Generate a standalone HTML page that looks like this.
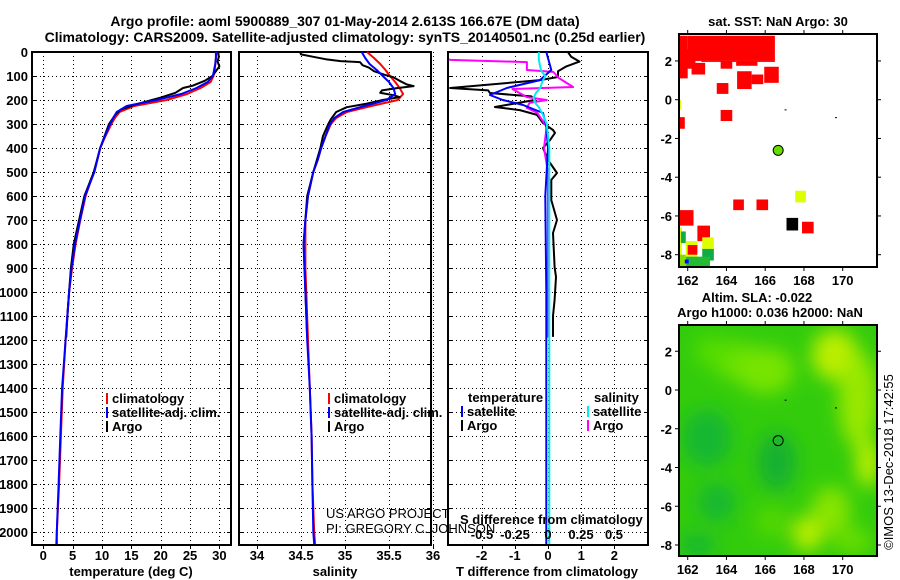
<!DOCTYPE html>
<html><head><meta charset="utf-8">
<style>
html,body{margin:0;padding:0;background:#fff;}
svg{display:block;font-family:"Liberation Sans",Arial,sans-serif;}
.b{font-weight:bold;font-size:13px;}
.t{font-weight:bold;font-size:14px;}
</style></head>
<body>
<svg id="fig" width="900" height="580" viewBox="0 0 900 580" xmlns="http://www.w3.org/2000/svg">
<rect width="900" height="580" fill="#fff"/>
<defs><filter id="blur" x="-50%" y="-50%" width="200%" height="200%"><feGaussianBlur stdDeviation="9"/></filter>
<clipPath id="m2clip"><rect x="679" y="325" width="198" height="231"/></clipPath></defs>
<text class="t" x="345" y="26" text-anchor="middle">Argo profile: aoml 5900889_307 01-May-2014 2.613S 166.67E (DM data)</text>
<text class="t" x="345" y="42" text-anchor="middle">Climatology: CARS2009. Satellite-adjusted climatology: synTS_20140501.nc (0.25d earlier)</text>
<g id="root"></g>
</svg>
<script>
// ---- data ----
const climDepth=[0,25,50,75,100,125,150,175,200,225,250,275,300,350,400,450,500,600,700,800,900,1000,1200,1400,1600,1800,2000,2050];
const tempClim=[29.5,29.4,29.3,29.2,29.0,28.5,26.8,24.5,21.0,15.5,13.0,12.2,11.6,10.6,9.7,9.2,8.6,7.2,6.3,5.5,4.9,4.4,3.8,3.3,3.0,2.7,2.3,2.2];
const tempSat=[29.4,29.4,29.3,29.1,28.9,28.0,26.1,23.5,19.3,14.2,12.5,11.9,11.4,10.5,9.7,9.2,8.7,7.1,6.25,5.4,4.8,4.4,3.8,3.2,2.9,2.6,2.3,2.3];
const salClim=[35.25,35.33,35.4,35.46,35.51,35.57,35.62,35.66,35.6,35.3,35.02,34.9,34.84,34.78,34.73,34.69,34.64,34.58,34.55,34.55,34.55,34.56,34.58,34.6,34.62,34.63,34.65,34.66];
const salSat=[35.19,35.23,35.28,35.36,35.43,35.5,35.55,35.57,35.47,35.22,34.98,34.88,34.83,34.78,34.73,34.69,34.64,34.58,34.55,34.53,34.54,34.55,34.57,34.6,34.62,34.63,34.64,34.65];
const argoTDepth=[0,20,40,60,80,100,120,140,150,170,190,200,220,240,260,300,400,500,600,700,800,900,1000,1100,1190];
const argoTemp=[29.8,29.9,29.7,30.0,29.4,28.8,27.5,25.5,23.8,22.5,20,18.5,15.5,13.2,12.3,11.2,9.7,8.6,7.0,6.1,5.2,4.7,4.4,4.1,3.9];
const argoSDepth=[0,10,20,30,38,42,55,65,80,95,105,120,135,142,150,160,170,180,188,200,215,230,250,280,300,350,400,500,600,700,800,1000,1190];
const argoSal=[34.49,34.5,34.64,34.78,34.95,35.17,35.2,35.27,35.33,35.45,35.55,35.62,35.7,35.78,35.6,35.42,35.4,35.55,35.62,35.43,35.25,35.02,34.9,34.84,34.81,34.75,34.72,34.64,34.57,34.55,34.53,34.55,34.57];
const tDiffDepth=[0,20,40,60,80,104,117,150,160,171,185,200,229,242,262,296,325,337,367,400,450,504,533,617,700,754,896,937,1033,1100,1187];
const tDiffArgo=[0.6,0.7,0.95,0.55,0.3,0.3,-0.24,-2.95,-1.8,-1.75,-0.5,-0.4,-1.6,-0.85,-0.33,-0.15,0.15,0.21,0.06,-0.15,0,0.27,0.1,0.1,0.27,0.15,0.2,0.24,0.2,0.15,0.15];
const tSatDepth=[0,75,117,150,179,200,221,254,310,400,600,1000,2050];
const tDiffSat=[-0.05,0.1,-0.24,-1.24,-1.75,-1.36,-0.75,-0.15,-0.05,0,-0.08,-0.05,-0.05];
const sArgoDepth=[30,33,42,60,75,83,108,146,154,188,200,212,233,254,312,400,500,1000,1190];
const sDiffArgo=[-0.75,-0.74,-0.16,-0.16,-0.16,0.04,0.08,0.19,-0.27,-0.16,-0.01,-0.14,-0.16,-0.08,-0.01,-0.03,0,0,0];
const sSatDepth=[0,30,60,80,100,120,150,170,190,210,230,260,300,400,600,1000,2050];
const sDiffSat=[-0.07,-0.07,-0.06,-0.05,-0.02,-0.04,-0.06,-0.09,-0.11,-0.1,-0.07,-0.04,-0.01,0.01,0.01,0.01,0.01];
const depthTicks=[0,100,200,300,400,500,600,700,800,900,1000,1100,1200,1300,1400,1500,1600,1700,1800,1900,2000];
const tempTicks=[0,5,10,15,20,25,30];
const salTicks=[34,34.5,35,35.5,36];
const tdTicks=[-2,-1,0,1,2];
const sdTicks=[-0.5,-0.25,0,0.25,0.5];
const lonTicks=[162,164,166,168,170];
const latTicks=[2,0,-2,-4,-6,-8];
// SST cells: [lon0, lat0, lon1, lat1, color]
const sstCells=[
[161.5,3.3,162.0,1.1,'#f00'],[162.0,3.3,166.5,2.0,'#f00'],[161.5,2.6,162.4,1.6,'#f00'],[162.2,1.9,162.9,1.3,'#f00'],
[163.7,2.0,164.3,1.6,'#f00'],[164.5,2.0,165.6,1.75,'#f00'],[165.6,2.0,166.5,1.95,'#f00'],[162.7,2.0,164.5,1.95,'#f00'],
[164.55,1.47,165.3,0.55,'#f00'],[165.3,1.3,165.9,0.8,'#f00'],[165.95,1.7,166.7,0.87,'#f00'],[163.5,0.86,164.1,0.3,'#f00'],
[163.7,-0.53,164.3,-1.1,'#f00'],[161.5,-0.9,161.85,-1.5,'#f00'],[161.5,0,161.65,-0.5,'#df0'],
[164.35,-5.15,164.9,-5.7,'#f00'],[165.55,-5.15,166.15,-5.7,'#f00'],[167.55,-4.7,168.1,-5.3,'#df0'],
[167.1,-6.1,167.7,-6.75,'#000'],[167.9,-6.3,168.5,-6.9,'#f00'],[161.5,-5.7,162.3,-6.5,'#f00'],[162.5,-6.5,163.15,-7.3,'#f00'],
[161.5,-6.6,161.7,-8.6,'#df0'],[161.65,-6.8,161.9,-7.4,'#1a4'],[161.9,-7.3,162.5,-8.1,'#df0'],[162.0,-7.5,162.5,-8.0,'#f00'],
[162.75,-7.1,163.35,-7.7,'#df0'],[162.75,-7.7,163.35,-8.3,'#1a4'],[161.9,-8.1,163.15,-8.6,'#2b3'],[161.6,-8.0,161.9,-8.6,'#8d0'],[161.85,-8.25,162.05,-8.45,'#00f']
];
// SLA blobs: [lon, lat, rx(deg), ry(deg), color]
const slaBlobs=[
[164.5,1.5,1.2,1.0,'#66e000'],[166,1.0,1.5,1.2,'#77e400'],[169.6,1.8,1.2,1.3,'#bbee00'],[170.8,-0.5,1.0,2.5,'#99e800'],
[171.3,-3.8,0.6,1.2,'#c0f000'],[168.2,-7.4,0.8,0.9,'#bbee00'],[169.4,-6.2,1.0,1.2,'#88e400'],[163.2,2.0,0.8,0.8,'#55dd00'],
[163,-2.5,1.3,1.5,'#15b830'],[166.6,-3.7,1.0,1.5,'#12b030'],[163.5,-5.8,1.0,1.0,'#15b830'],[162.5,-8,1.0,0.6,'#15b830'],
[166.3,-6.8,0.8,0.8,'#55d800'],[170.5,-7.8,1.0,0.7,'#66dd00']
];
const argoLon=166.67, argoLat=-2.613;

// ---- scales ----
const NS='http://www.w3.org/2000/svg';
const root=document.getElementById('root');
function el(tag,attrs,parent,txt){const e=document.createElementNS(NS,tag);for(const k in attrs)e.setAttribute(k,attrs[k]);if(txt!==undefined)e.textContent=txt;(parent||root).appendChild(e);return e;}
const yD=d=>52+0.24*d;
const xT=t=>43.3+5.87*t;
const xS=s=>257+88*(s-34);
const xTD=d=>548+33.2*d;
const xSD=d=>548+132*d;
const lonX=l=>687.7+19.375*(l-162);
const latY1=a=>99.7-19.375*a;
const latY2=a=>390-19.375*a;
const panels=[{x0:32,x1:231,name:'temperature-panel'},{x0:239,x1:431,name:'salinity-panel'},{x0:448,x1:648,name:'difference-panel'}];
const Y0=52,Y1=545;

function line(xs,ds,fx,color,name,parent){
  const pts=xs.map((v,i)=>fx(v).toFixed(1)+','+yD(ds[i]).toFixed(1)).join(' ');
  const p=el('polyline',{points:pts,fill:'none',stroke:color,'stroke-width':2,'stroke-linejoin':'round'},parent);
  
  
  return p;
}

// panels frame and grids
panels.forEach((P,pi)=>{
  const g=el('g',{});
  
  
  depthTicks.forEach(d=>{
    const y=Math.round(yD(d))+0.5;
    const gl=el('line',{x1:P.x0,x2:P.x1,y1:y,y2:y,stroke:'#000','stroke-width':1,'stroke-dasharray':'1,3','shape-rendering':'crispEdges'},g);
    
    
    el('line',{x1:P.x0,x2:P.x0+4,y1:y,y2:y,stroke:'#000','shape-rendering':'crispEdges'},g);
    el('line',{x1:P.x1-4,x2:P.x1,y1:y,y2:y,stroke:'#000','shape-rendering':'crispEdges'},g);
  });
  const ticks=pi===0?tempTicks:pi===1?salTicks:tdTicks;
  const fx=pi===0?xT:pi===1?xS:xTD;
  ticks.forEach(t=>{
    const x=Math.round(fx(t))+0.5;
    const gl=el('line',{x1:x,x2:x,y1:Y0,y2:Y1,stroke:'#000','stroke-width':1,'stroke-dasharray':'1,3','shape-rendering':'crispEdges'},g);
    
    
    el('line',{x1:x,x2:x,y1:Y1,y2:Y1+4,stroke:'#000'},g);
    const tl=el('text',{x:fx(t),y:560,'text-anchor':'middle',class:'b'},g,String(t));
    
    
  });
  const fr=el('rect',{x:P.x0,y:Y0,width:P.x1-P.x0,height:Y1-Y0,fill:'none',stroke:'#000','stroke-width':2},g);
  
  
});
depthTicks.forEach(d=>{
  const t=el('text',{x:28,y:yD(d)+5,'text-anchor':'end',class:'b'},null,String(d));
  
  
});
[['temperature (deg C)',131,'x-axis-title-temperature'],['salinity',335,'x-axis-title-salinity'],['T difference from climatology',547,'x-axis-title-t-difference']].forEach(a=>{
  const t=el('text',{x:a[1],y:576,'text-anchor':'middle',class:'b'},null,a[0]);
  
  
});

// series
line(tempClim,climDepth,xT,'#f00','temperature-climatology-line');
line(argoTemp,argoTDepth,xT,'#000','temperature-argo-line');
line(tempSat,climDepth,xT,'#00f','temperature-satellite-line');
line(salClim,climDepth,xS,'#f00','salinity-climatology-line');
line(argoSal,argoSDepth,xS,'#000','salinity-argo-line');
line(salSat,climDepth,xS,'#00f','salinity-satellite-line');
line(tDiffArgo,tDiffDepth,xTD,'#000','t-diff-argo-line');
line(sDiffArgo,sArgoDepth,xSD,'#f0f','s-diff-argo-line');
line(tDiffSat,tSatDepth,xTD,'#00f','t-diff-satellite-line');
line(sDiffSat,sSatDepth,xSD,'#0ee','s-diff-satellite-line');

// legends
function legend(x,y,color,label,name){
  const g=el('g',{});
  
  
  el('rect',{x:x,y:y-10,width:2,height:11,fill:color},g);
  el('text',{x:x+6,y:y,class:'b'},g,label);
}
legend(106,403,'#f00','climatology','legend-climatology-t');
legend(106,417,'#00f','satellite-adj. clim.','legend-satellite-t');
legend(106,431,'#000','Argo','legend-argo-t');
legend(328,403,'#f00','climatology','legend-climatology-s');
legend(328,417,'#00f','satellite-adj. clim.','legend-satellite-s');
legend(328,431,'#000','Argo','legend-argo-s');
let t=el('text',{x:468,y:402,class:'b'},null,'temperature');
t=el('text',{x:594,y:402,class:'b'},null,'salinity');
legend(461,416,'#00f','satellite','legend-t-satellite');
legend(461,430,'#000','Argo','legend-t-argo');
legend(587,416,'#0ee','satellite','legend-s-satellite');
legend(587,430,'#f0f','Argo','legend-s-argo');
t=el('text',{x:460,y:524,class:'b'},null,'S difference from climatology');
sdTicks.forEach(v=>{const e=el('text',{x:xSD(v),y:539,'text-anchor':'middle',class:'b'},null,String(v));});
t=el('text',{x:326,y:518,'font-size':'13'},null,'US ARGO PROJECT');
t=el('text',{x:326,y:533,'font-size':'13'},null,'PI: GREGORY C. JOHNSON');

// maps
function mapAxes(top,bot,latY,name){
  const g=el('g',{});
  
  
  lonTicks.forEach(l=>{
    const x=lonX(l);
    el('line',{x1:x,x2:x,y1:top-4,y2:top,stroke:'#000'},g);
    el('line',{x1:x,x2:x,y1:bot,y2:bot+4,stroke:'#000'},g);
    const e=el('text',{x:x,y:bot+18,'text-anchor':'middle',class:'b'},g,String(l));
    
    
  });
  latTicks.forEach(a=>{
    const y=latY(a);
    el('line',{x1:675,x2:679,y1:y,y2:y,stroke:'#000'},g);
    el('line',{x1:877,x2:881,y1:y,y2:y,stroke:'#000'},g);
    const e=el('text',{x:672,y:y+5,'text-anchor':'end',class:'b'},g,String(a));
    
    
  });
  const r=el('rect',{x:679,y:top,width:198,height:bot-top,fill:'none',stroke:'#000','stroke-width':2},g);
  
  
}
const sst=el('g',{});


sstCells.forEach(c=>{
  const r=el('rect',{x:lonX(c[0]),y:latY1(c[1]),width:lonX(c[2])-lonX(c[0]),height:latY1(c[3])-latY1(c[1]),fill:c[4]},sst);
  
  
});
el('rect',{x:lonX(167),y:latY1(-0.5),width:2,height:1,fill:'#000'},sst);
el('rect',{x:lonX(169.6),y:latY1(-0.9),width:2,height:1,fill:'#000'},sst);
let dot=el('circle',{cx:lonX(argoLon),cy:latY1(argoLat),r:5,fill:'#66dd00',stroke:'#000','stroke-width':1},sst);


mapAxes(34,267,latY1,'sst-map-axes');
t=el('text',{x:778,y:26,'text-anchor':'middle',class:'b'},null,'sat. SST: NaN Argo: 30');

const sla=el('g',{'clip-path':'url(#m2clip)'});


el('rect',{x:679,y:325,width:198,height:231,fill:'#33cc0c'},sla);
const bg=el('g',{filter:'url(#blur)'},sla);
slaBlobs.forEach(b=>{
  const e=el('ellipse',{cx:lonX(b[0]),cy:latY2(b[1]),rx:b[2]*19.375,ry:b[3]*19.375,fill:b[4]},bg);
  
  
});
el('rect',{x:lonX(167),y:latY2(-0.5),width:2,height:1,fill:'#000'},sla);
el('rect',{x:lonX(169.6),y:latY2(-0.9),width:2,height:1,fill:'#000'},sla);
dot=el('circle',{cx:lonX(argoLon),cy:latY2(argoLat),r:5,fill:'none',stroke:'#000','stroke-width':1},sla);


mapAxes(325,556,latY2,'sla-map-axes');
t=el('text',{x:757,y:302,'text-anchor':'middle',class:'b'},null,'Altim. SLA: -0.022');
t=el('text',{x:770,y:317,'text-anchor':'middle',class:'b'},null,'Argo h1000: 0.036 h2000: NaN');
t=el('text',{x:0,y:0,'text-anchor':'middle','font-size':'13',transform:'translate(893,462) rotate(-90)'},null,'©IMOS 13-Dec-2018 17:42:55');
</script>
</body></html>
